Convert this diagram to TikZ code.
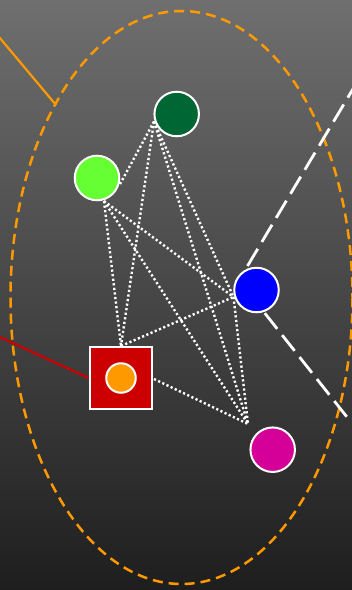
\documentclass[tikz,border=0pt]{standalone}
\definecolor{bgtop}{RGB}{111,111,111}
\definecolor{bgbot}{RGB}{30,30,30}
\definecolor{dgc}{HTML}{006633}
\definecolor{lgc}{HTML}{66FF33}
\definecolor{blc}{HTML}{0000FF}
\definecolor{mgc}{RGB}{212,0,152}
\definecolor{rdc}{HTML}{CC0000}
\definecolor{orc}{HTML}{FF9900}
\pgfdeclarelayer{bg}
\pgfdeclarelayer{mid}
\pgfsetlayers{bg,mid,main}
\begin{document}
\begin{tikzpicture}[x=1pt,y=-1pt,
  ball/.style={circle,draw=white,line width=2pt,minimum size=44.5pt,inner sep=0pt},
  sq/.style={rectangle,draw=white,line width=2pt,minimum size=62pt,inner sep=0pt,fill=rdc},
  link/.style={white,line width=2.4pt,dash pattern=on 2.2pt off 2.4pt},
  wdash/.style={white,line width=2.8pt,dash pattern=on 20pt off 8pt},
  odash/.style={orc,line width=2.5pt,dash pattern=on 10pt off 6pt},
  oline/.style={orc,line width=2.2pt},
  rline/.style={rdc,line width=2.2pt}]
\useasboundingbox (0,0) rectangle (352,590);
\clip (0,0) rectangle (352,590);
% nodes
\node[ball,fill=dgc] (dg) at (176.7,114) {};
\node[ball,fill=lgc] (lg) at (97,178) {};
\node[ball,fill=blc] (bl) at (256.5,290) {};
\node[ball,fill=mgc] (mg) at (272.7,449.7) {};
\node[sq] (rs) at (120.5,378) {};
\node[circle,draw=white,line width=2pt,minimum size=29.5pt,inner sep=0pt,fill=orc] (oc) at (121,378) {};
% edge end points
\coordinate (dgP) at (154,121.5);
\coordinate (lgP) at (104,201);
\coordinate (lgQ) at (119,186);
\coordinate (blP) at (233.5,297);
\coordinate (mgP) at (248,424);
\coordinate (rsN) at (121,346);
\coordinate (rsE) at (154,379);
\coordinate (ou) at (-6,31);
\coordinate (oe) at (56,105);
\coordinate (rl) at (-12,331.5);
\coordinate (wu1) at (247.5,266);
\coordinate (wu2) at (372,57);
\coordinate (wl1) at (346.7,416.7);
\coordinate (wl2) at (254.4,300);
\begin{pgfonlayer}{bg}
\shade[top color=bgtop,bottom color=bgbot] (0,0) rectangle (352,590);
\end{pgfonlayer}
\begin{pgfonlayer}{mid}
\draw[odash] (181.5,297.5) ellipse [x radius=171, y radius=286.5];
\draw[oline] (ou) -- (oe);
\draw[rline] (rl) -- (rs.west);
\draw[wdash] (wu1) -- (wu2);
\draw[wdash] (wl1) -- (wl2);
\draw[link] (dgP) -- (lgQ);
\draw[link] (dgP) -- (rsN);
\draw[link] (dgP) -- (blP);
\draw[link] (dgP) -- (mgP);
\draw[link] (lgP) -- (blP);
\draw[link] (lgP) -- (mgP);
\draw[link] (lgP) -- (rsN);
\draw[link] (rsN) -- (blP);
\draw[link] (rsE) -- (mgP);
\draw[link] (blP) -- (mgP);
\end{pgfonlayer}
\end{tikzpicture}
\end{document}
